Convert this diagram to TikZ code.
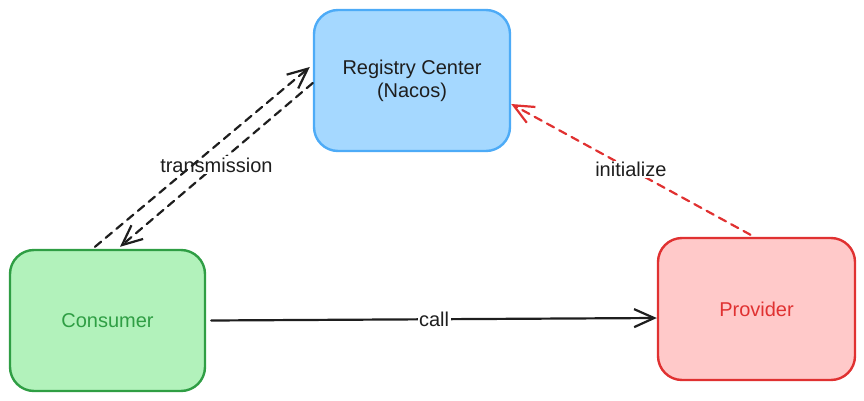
\documentclass[tikz,border=0pt]{standalone}
\usepackage{fontspec}
\setmainfont{Liberation Sans}
\usetikzlibrary{arrows.meta}
\definecolor{ink}{HTML}{1E1E1E}
\definecolor{bluefill}{HTML}{A5D8FF}
\definecolor{bluestroke}{HTML}{4DABF7}
\definecolor{greenfill}{HTML}{B2F2BB}
\definecolor{greenstroke}{HTML}{2F9E44}
\definecolor{redfill}{HTML}{FFC9C9}
\definecolor{redstroke}{HTML}{E03131}
\tikzset{
  box/.style={draw, line width=2.4pt, rounded corners=24pt, inner sep=0pt, align=center,
    font=\fontsize{20}{23}\selectfont},
  conn/.style={line width=2.2pt, line cap=round, -{Straight Barb[length=20pt,width=18pt,line width=2.2pt]}},
  dashline/.style={dash pattern=on 8pt off 6pt},
  lbl/.style={fill=white, inner sep=1.5pt, text=ink, font=\fontsize{20}{23}\selectfont}
}
\begin{document}
\begin{tikzpicture}[x=1pt,y=-1pt]
\useasboundingbox (0,0) rectangle (864,401);
\node[box, fill=bluefill, draw=bluestroke, text=ink, minimum width=196pt, minimum height=141pt] (reg) at (412,80.5) {Registry Center\\(Nacos)};
\node[box, fill=greenfill, draw=greenstroke, text=greenstroke, minimum width=195pt, minimum height=141pt] (cons) at (107.5,320.5) {Consumer};
\node[box, fill=redfill, draw=redstroke, text=redstroke, minimum width=197pt, minimum height=142pt] (prov) at (756.5,309) {Provider};
% lower transmission arrow (registry -> consumer) with label
\draw[conn, dashline, draw=ink] ([yshift=-2.5pt]reg.west) -- node[lbl, pos=0.5] (ltrans) {transmission} ([xshift=12.5pt,yshift=2pt]cons.north);
% upper transmission arrow (consumer -> registry)
\draw[conn, dashline, draw=ink] ([xshift=-12.5pt,yshift=2pt]cons.north) -- ([xshift=-3pt,yshift=13.5pt]reg.west);
% initialize
\draw[conn, dashline, draw=redstroke] ([xshift=-6pt,yshift=2pt]prov.north) -- node[lbl, pos=0.5] (linit) {initialize} ([xshift=0pt,yshift=-23.5pt]reg.east);
% call
\draw[conn, draw=ink] ([xshift=5pt]cons.east) -- node[lbl, pos=0.5] (lcall) {call} ([yshift=-9pt]prov.west);
\end{tikzpicture}
\end{document}
